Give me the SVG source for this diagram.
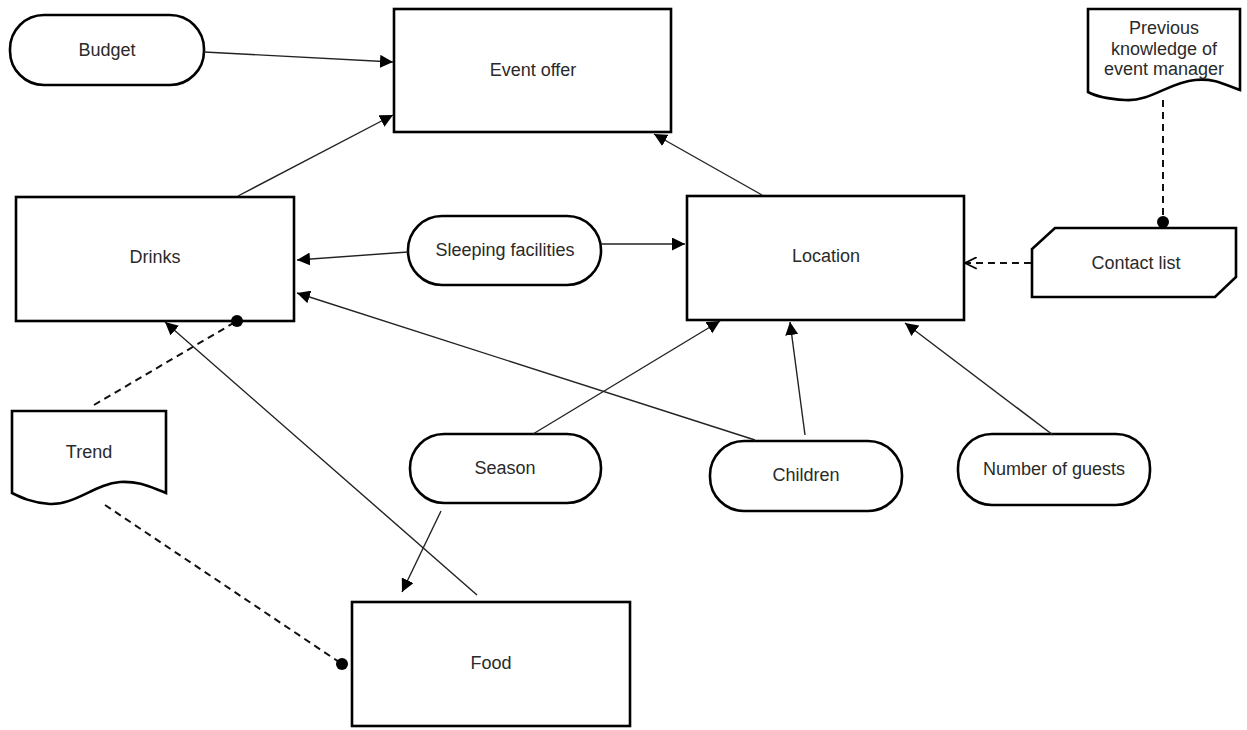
<svg xmlns="http://www.w3.org/2000/svg" width="1247" height="730" viewBox="0 0 1247 730">
  <style>
    .box { fill: #fff; stroke: #000; stroke-width: 2.6; }
    .lbl { font-family: "Liberation Sans", Arial, sans-serif; font-size: 18px; fill: #2a2a2a; text-anchor: middle; dominant-baseline: central; }
    .edge { fill: none; stroke: #222; stroke-width: 1.4; }
    .dash { fill: none; stroke: #111; stroke-width: 2; stroke-dasharray: 7 5; }
  </style>
  <defs>
    <marker id="arrow" viewBox="0 0 10 10" refX="10" refY="5" markerWidth="13" markerHeight="13" markerUnits="userSpaceOnUse" orient="auto">
      <path d="M0,0 L10,5 L0,10 Z" fill="#000"/>
    </marker>
    <marker id="open" viewBox="0 0 10 10" refX="10" refY="5" markerWidth="13" markerHeight="13" markerUnits="userSpaceOnUse" orient="auto">
      <path d="M1,0.5 L10,5 L1,9.5" fill="none" stroke="#000" stroke-width="1.3"/>
    </marker>
    <marker id="dot" viewBox="0 0 10 10" refX="5" refY="5" markerWidth="12" markerHeight="12" markerUnits="userSpaceOnUse">
      <circle cx="5" cy="5" r="5" fill="#000"/>
    </marker>
  </defs>

  <g id="event-offer">
    <rect class="box" x="394" y="9" width="277" height="123"/>
    <text class="lbl" x="533" y="70">Event offer</text>
  </g>
  <g id="budget">
    <rect class="box" x="10" y="15" width="194" height="70" rx="34"/>
    <text class="lbl" x="107" y="50">Budget</text>
  </g>
  <g id="drinks">
    <rect class="box" x="16" y="197" width="278" height="124"/>
    <text class="lbl" x="155" y="257">Drinks</text>
  </g>
  <g id="sleeping-facilities">
    <rect class="box" x="408" y="216" width="193" height="69" rx="34"/>
    <text class="lbl" x="505" y="250">Sleeping facilities</text>
  </g>
  <g id="location">
    <rect class="box" x="687" y="196" width="277" height="124"/>
    <text class="lbl" x="826" y="256">Location</text>
  </g>
  <g id="contact-list">
    <path class="box" d="M1055,228 L1236,228 L1236,277 L1215,297 L1032,297 L1032,249 Z"/>
    <text class="lbl" x="1136" y="263">Contact list</text>
  </g>
  <g id="previous-knowledge">
    <path class="box" d="M1088,9 L1240,9 L1240,90 C1225,85 1215,78 1195,80 C1170,82 1150,102 1125,100 C1108,99 1095,96 1088,92 Z"/>
    <text class="lbl" x="1164" y="28">Previous</text>
    <text class="lbl" x="1164" y="49">knowledge of</text>
    <text class="lbl" x="1164" y="69">event manager</text>
  </g>
  <g id="trend">
    <path class="box" d="M12,411 L166,411 L166,493 C150,487 140,481 120,482 C95,484 75,505 50,504 C32,503 20,497 12,493 Z"/>
    <text class="lbl" x="89" y="452">Trend</text>
  </g>
  <g id="season">
    <rect class="box" x="410" y="434" width="191" height="69" rx="34"/>
    <text class="lbl" x="505" y="468">Season</text>
  </g>
  <g id="children">
    <rect class="box" x="710" y="441" width="192" height="70" rx="34"/>
    <text class="lbl" x="806" y="475">Children</text>
  </g>
  <g id="number-of-guests">
    <rect class="box" x="958" y="434" width="192" height="71" rx="34"/>
    <text class="lbl" x="1054" y="469">Number of guests</text>
  </g>
  <g id="food">
    <rect class="box" x="352" y="602" width="278" height="124"/>
    <text class="lbl" x="491" y="663">Food</text>
  </g>

  <!-- connectors, drawn last so end dots sit on top of node borders -->
  <g id="connectors">
    <line class="edge" x1="204" y1="52" x2="393" y2="62" marker-end="url(#arrow)"/>
    <line class="edge" x1="238" y1="196" x2="393" y2="115" marker-end="url(#arrow)"/>
    <line class="edge" x1="762" y1="195" x2="654" y2="134" marker-end="url(#arrow)"/>
    <line class="edge" x1="408" y1="252" x2="297" y2="260" marker-end="url(#arrow)"/>
    <line class="edge" x1="601" y1="244" x2="685" y2="244" marker-end="url(#arrow)"/>
    <line class="edge" x1="755" y1="440" x2="297" y2="293" marker-end="url(#arrow)"/>
    <line class="edge" x1="533" y1="434" x2="720" y2="321" marker-end="url(#arrow)"/>
    <line class="edge" x1="805" y1="435" x2="790" y2="322" marker-end="url(#arrow)"/>
    <line class="edge" x1="1053" y1="435" x2="905" y2="323" marker-end="url(#arrow)"/>
    <line class="edge" x1="441" y1="511" x2="402" y2="592" marker-end="url(#arrow)"/>
    <line class="edge" x1="477" y1="595" x2="165" y2="322" marker-end="url(#arrow)"/>
    <line class="dash" x1="94" y1="405" x2="237" y2="321" marker-end="url(#dot)"/>
    <line class="dash" x1="105" y1="505" x2="342" y2="664" marker-end="url(#dot)"/>
    <line class="dash" x1="1031" y1="263" x2="965" y2="263" marker-end="url(#open)"/>
    <line class="dash" x1="1163" y1="100" x2="1163" y2="222" marker-end="url(#dot)"/>
  </g>
</svg>
